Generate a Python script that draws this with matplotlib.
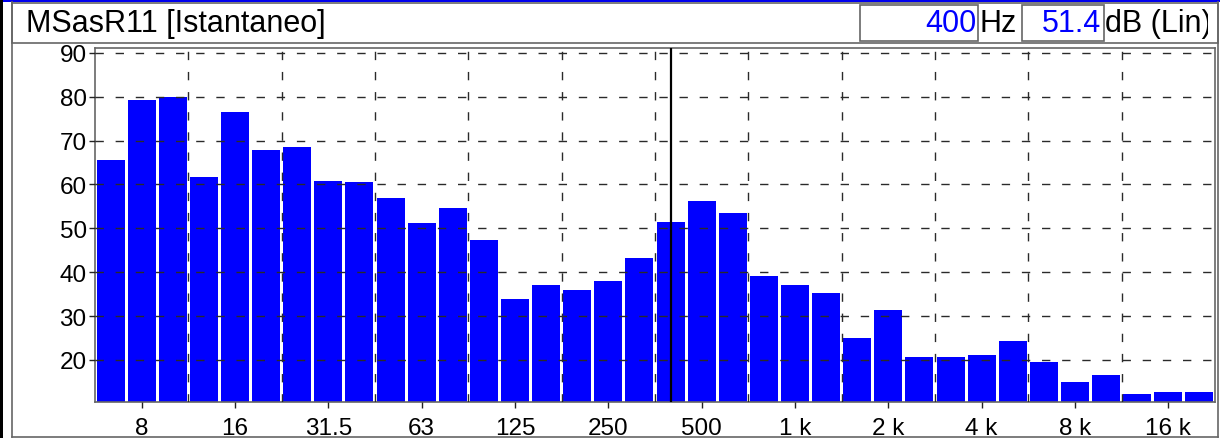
import matplotlib
matplotlib.use("Agg")
import numpy as np
import matplotlib.pyplot as plt
from matplotlib.patches import Rectangle
from matplotlib.lines import Line2D

plt.rcParams['font.family'] = ['Liberation Sans', 'DejaVu Sans']
plt.rcParams['lines.scale_dashes'] = False

# 1/3 octave bands (Hz) and levels (dB Lin)
bands = ['6.3', '8', '10', '12.5', '16', '20', '25', '31.5', '40', '50', '63', '80',
         '100', '125', '160', '200', '250', '315', '400', '500', '630', '800', '1 k', '1.25 k',
         '1.6 k', '2 k', '2.5 k', '3.15 k', '4 k', '5 k', '6.3 k', '8 k', '10 k', '12.5 k',
         '16 k', '20 k']
levels = [65.6, 79.3, 80.0, 61.7, 76.5, 67.9, 68.6, 60.8, 60.6, 56.9, 51.2, 54.7,
          47.4, 33.9, 37.1, 36.0, 38.0, 43.3, 51.4, 56.3, 53.5, 39.2, 37.1, 35.3,
          25.0, 31.4, 20.7, 20.7, 21.1, 24.3, 19.5, 15.0, 16.6, 12.3, 12.7, 12.7]
tick_bands = ['8', '16', '31.5', '63', '125', '250', '500', '1 k', '2 k', '4 k', '8 k', '16 k']
y_ticks = [20, 30, 40, 50, 60, 70, 80, 90]
cursor_band = '400'
title = 'MSasR11 [Istantaneo]'

W, H = 1220, 439
fig = plt.figure(figsize=(W / 100, H / 100), dpi=100)
fx = lambda px: px / W
fy = lambda py: 1 - py / H

ax = fig.add_axes([fx(95), fy(403), fx(1215) - fx(95), fy(49) - fy(403)])

x = np.arange(len(bands))
ax.bar(x, levels, width=0.9, color='#0000ff', bottom=0, zorder=1)

ax.set_xlim(-0.5, len(bands) - 0.5)
ax.set_ylim(10.4, 91.1)

# octave grid lines between band groups
ax.set_xticks([bands.index(b) for b in tick_bands])
ax.set_xticklabels(tick_bands)
ax.set_xticks(np.arange(2.5, len(bands) - 1, 3), minor=True)
ax.set_yticks(y_ticks)

ax.set_axisbelow(False)
ax.grid(True, which='minor', axis='x', color='#2a2a2a', lw=1.0, linestyle=(0, (6, 8.5)))
ax.grid(True, which='major', axis='y', color='#2a2a2a', lw=1.0, linestyle=(0, (6, 8.5)))
ax.grid(False, which='major', axis='x')

ax.tick_params(axis='x', which='major', length=4.5, width=1, pad=6, labelsize=17.5, color='#222')
ax.tick_params(axis='x', which='minor', length=0)
ax.tick_params(axis='y', length=4, width=1, pad=2, labelsize=17.5, color='#222')
for s in ax.spines.values():
    s.set_color('#666666')
    s.set_linewidth(1.2)

# cursor line
ci = bands.index(cursor_band)
ax.axvline(ci, color='black', lw=1.6, zorder=5)

# window frame
fig.add_artist(Rectangle((0, fy(2.5)), 1, fy(0) - fy(2.5), transform=fig.transFigure,
                         color='#0000ee', lw=0))
fig.add_artist(Rectangle((0, 0), fx(3), 1, transform=fig.transFigure, color='black', lw=0))
fig.add_artist(Line2D([fx(11.5), fx(11.5)], [fy(438), fy(3)], transform=fig.transFigure,
                      color='#666666', lw=1.2))
fig.add_artist(Line2D([fx(11.5), fx(1218)], [fy(437.5), fy(437.5)], transform=fig.transFigure,
                      color='#666666', lw=1.2))
fig.add_artist(Line2D([fx(1218), fx(1218)], [fy(437.5), fy(3)], transform=fig.transFigure,
                      color='#666666', lw=1.2))
# title bar
fig.add_artist(Rectangle((fx(11.5), fy(44)), fx(1218) - fx(11.5), fy(4) - fy(44),
                         transform=fig.transFigure, fill=False, ec='#666666', lw=1.2))
fig.text(fx(26), fy(24), title, fontsize=22, va='center', ha='left')

# readout boxes
fig.add_artist(Rectangle((fx(860), fy(42)), fx(978) - fx(860), fy(6) - fy(42),
                         transform=fig.transFigure, fill=False, ec='#666666', lw=1.2))
fig.add_artist(Rectangle((fx(1022), fy(42)), fx(1104) - fx(1022), fy(6) - fy(42),
                         transform=fig.transFigure, fill=False, ec='#666666', lw=1.2))
fig.text(fx(976), fy(24), cursor_band, color='#0000ff', fontsize=22, va='center', ha='right')
fig.text(fx(980), fy(24), 'Hz', color='black', fontsize=22, va='center', ha='left')
fig.text(fx(1101), fy(24), '%.1f' % levels[ci], color='#0000ff', fontsize=22, va='center', ha='right')
t = fig.text(fx(1105), fy(24), 'dB (Lin)', color='black', fontsize=22, va='center', ha='left')
t.set_clip_on(True)
t.set_clip_path(Rectangle((fx(1000), fy(44)), fx(1208) - fx(1000), fy(4) - fy(44),
                          transform=fig.transFigure))

fig.savefig('out.png', dpi=100)
